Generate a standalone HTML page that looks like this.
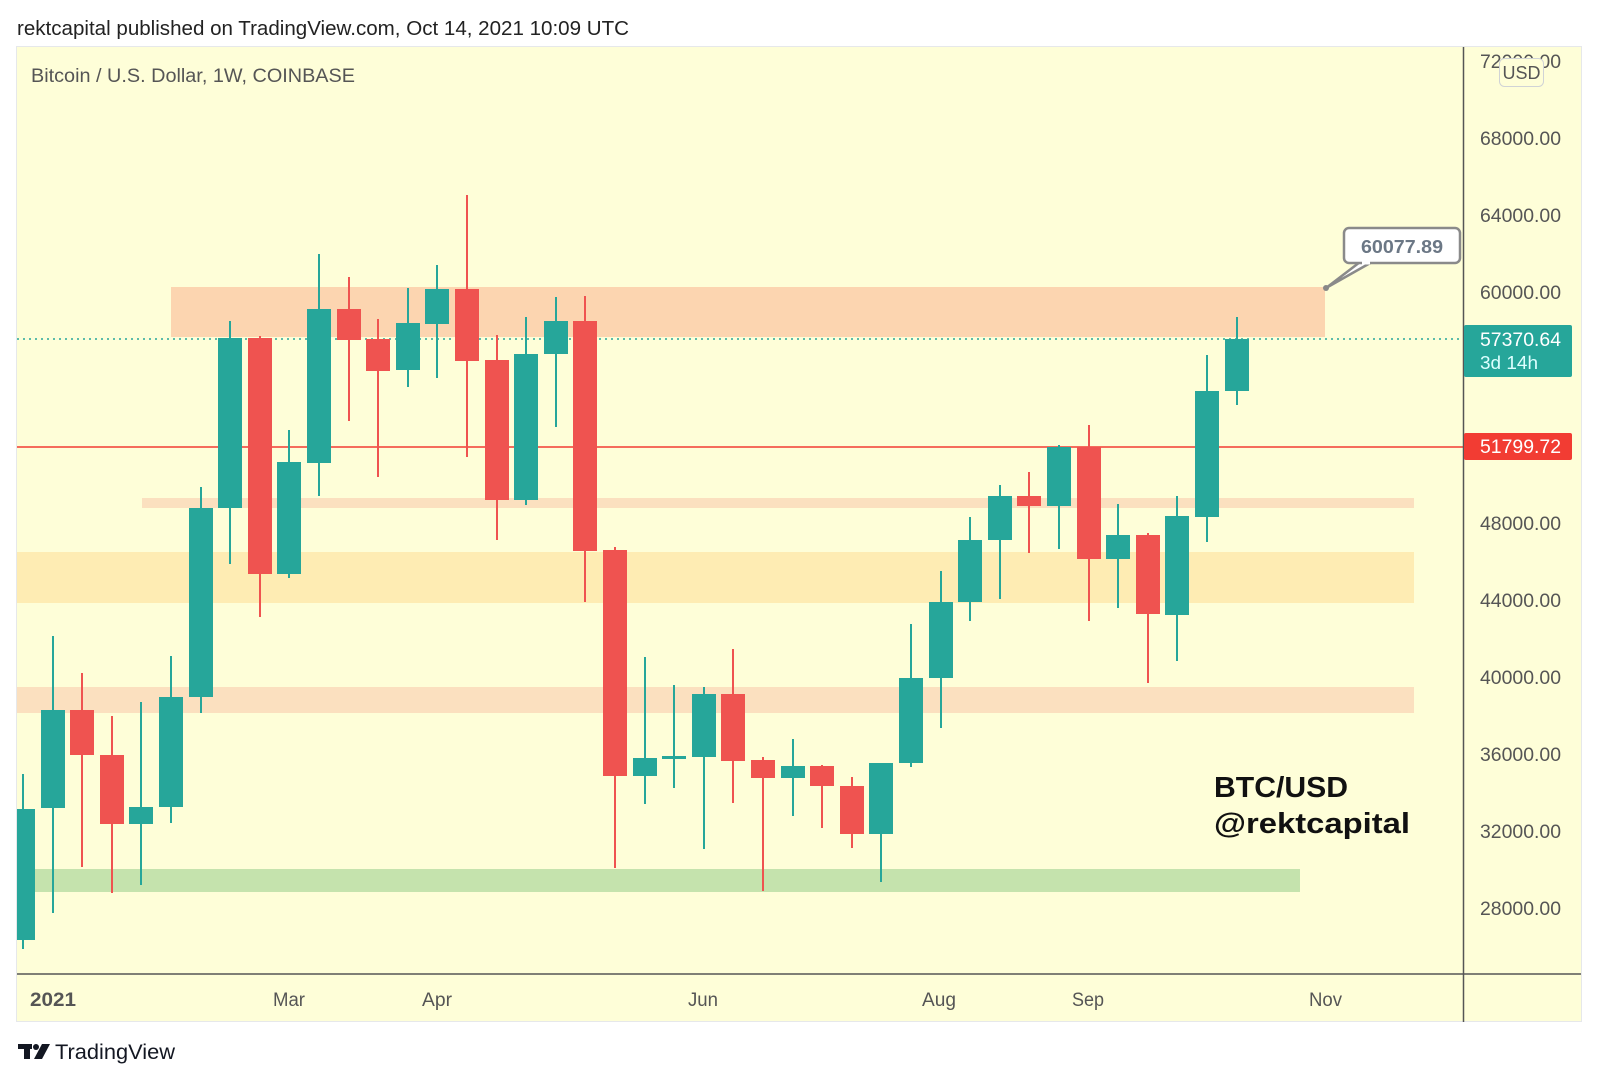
<!DOCTYPE html>
<html><head><meta charset="utf-8"><style>
html,body{margin:0;padding:0;background:#fff;}
svg{display:block;}
text{font-family:"Liberation Sans",sans-serif;}
</style></head><body>
<svg width="1599" height="1080" viewBox="0 0 1599 1080" xmlns="http://www.w3.org/2000/svg">
<rect x="0" y="0" width="1599" height="1080" fill="#ffffff"/>
<text x="17" y="35" font-size="20" fill="#222" textLength="612" lengthAdjust="spacingAndGlyphs">rektcapital published on TradingView.com, Oct 14, 2021 10:09 UTC</text>
<rect x="16.5" y="46.5" width="1565" height="975" fill="#fefed8" stroke="#e6e8ea"/>
<rect x="171" y="287" width="1154" height="50" fill="#fcd5b0"/>
<rect x="142" y="498" width="1272" height="10" fill="#fbe0bf"/>
<rect x="17" y="552" width="1397" height="51" fill="#feecb3"/>
<rect x="17" y="687" width="1397" height="26" fill="#fbe0bf"/>
<rect x="30" y="869" width="1270" height="23" fill="#c5e3ad"/>
<line x1="17" y1="339" x2="1463" y2="339" stroke="#26a69a" stroke-width="1.5" stroke-dasharray="2,4"/>
<line x1="17" y1="447" x2="1463" y2="447" stroke="#f23c33" stroke-width="1.5"/>
<g fill="#26a69a">
<rect x="22" y="774" width="2" height="175"/><rect x="17" y="809" width="18" height="131"/>
<rect x="52" y="636" width="2" height="277"/><rect x="41" y="710" width="24" height="98"/>
<rect x="140" y="702" width="2" height="183"/><rect x="129" y="807" width="24" height="17"/>
<rect x="170" y="656" width="2" height="167"/><rect x="159" y="697" width="24" height="110"/>
<rect x="200" y="487" width="2" height="226"/><rect x="189" y="508" width="24" height="189"/>
<rect x="229" y="321" width="2" height="243"/><rect x="218" y="338" width="24" height="170"/>
<rect x="288" y="430" width="2" height="148"/><rect x="277" y="462" width="24" height="112"/>
<rect x="318" y="254" width="2" height="242"/><rect x="307" y="309" width="24" height="154"/>
<rect x="407" y="288" width="2" height="99"/><rect x="396" y="323" width="24" height="47"/>
<rect x="436" y="265" width="2" height="113"/><rect x="425" y="289" width="24" height="35"/>
<rect x="525" y="317" width="2" height="188"/><rect x="514" y="354" width="24" height="146"/>
<rect x="555" y="297" width="2" height="130"/><rect x="544" y="321" width="24" height="33"/>
<rect x="644" y="657" width="2" height="147"/><rect x="633" y="758" width="24" height="18"/>
<rect x="673" y="685" width="2" height="103"/><rect x="662" y="756" width="24" height="3"/>
<rect x="703" y="687" width="2" height="162"/><rect x="692" y="694" width="24" height="63"/>
<rect x="792" y="739" width="2" height="77"/><rect x="781" y="766" width="24" height="12"/>
<rect x="880" y="763" width="2" height="119"/><rect x="869" y="763" width="24" height="71"/>
<rect x="910" y="624" width="2" height="143"/><rect x="899" y="678" width="24" height="85"/>
<rect x="940" y="571" width="2" height="157"/><rect x="929" y="602" width="24" height="76"/>
<rect x="969" y="517" width="2" height="104"/><rect x="958" y="540" width="24" height="62"/>
<rect x="999" y="485" width="2" height="114"/><rect x="988" y="496" width="24" height="44"/>
<rect x="1058" y="445" width="2" height="104"/><rect x="1047" y="447" width="24" height="59"/>
<rect x="1117" y="504" width="2" height="104"/><rect x="1106" y="535" width="24" height="24"/>
<rect x="1176" y="496" width="2" height="165"/><rect x="1165" y="516" width="24" height="99"/>
<rect x="1206" y="355" width="2" height="187"/><rect x="1195" y="391" width="24" height="126"/>
<rect x="1236" y="317" width="2" height="88"/><rect x="1225" y="339" width="24" height="52"/>
</g>
<g fill="#ef5350">
<rect x="81" y="673" width="2" height="194"/><rect x="70" y="710" width="24" height="45"/>
<rect x="111" y="716" width="2" height="177"/><rect x="100" y="755" width="24" height="69"/>
<rect x="259" y="336" width="2" height="281"/><rect x="248" y="338" width="24" height="236"/>
<rect x="348" y="277" width="2" height="144"/><rect x="337" y="309" width="24" height="31"/>
<rect x="377" y="319" width="2" height="158"/><rect x="366" y="339" width="24" height="32"/>
<rect x="466" y="195" width="2" height="262"/><rect x="455" y="289" width="24" height="72"/>
<rect x="496" y="335" width="2" height="205"/><rect x="485" y="360" width="24" height="140"/>
<rect x="584" y="296" width="2" height="306"/><rect x="573" y="321" width="24" height="230"/>
<rect x="614" y="547" width="2" height="321"/><rect x="603" y="550" width="24" height="226"/>
<rect x="732" y="649" width="2" height="154"/><rect x="721" y="694" width="24" height="67"/>
<rect x="762" y="757" width="2" height="134"/><rect x="751" y="760" width="24" height="18"/>
<rect x="821" y="765" width="2" height="63"/><rect x="810" y="766" width="24" height="20"/>
<rect x="851" y="777" width="2" height="71"/><rect x="840" y="786" width="24" height="48"/>
<rect x="1028" y="472" width="2" height="81"/><rect x="1017" y="496" width="24" height="10"/>
<rect x="1088" y="425" width="2" height="196"/><rect x="1077" y="447" width="24" height="112"/>
<rect x="1147" y="533" width="2" height="150"/><rect x="1136" y="535" width="24" height="79"/>
</g>
<line x1="1463.5" y1="47" x2="1463.5" y2="1022" stroke="#555" stroke-width="1.5"/>
<line x1="17" y1="974" x2="1581" y2="974" stroke="#555" stroke-width="1.5"/>
<g font-size="19" fill="#555">
<text x="1480" y="68" textLength="81" lengthAdjust="spacingAndGlyphs">72000.00</text>
<text x="1480" y="145" textLength="81" lengthAdjust="spacingAndGlyphs">68000.00</text>
<text x="1480" y="222" textLength="81" lengthAdjust="spacingAndGlyphs">64000.00</text>
<text x="1480" y="299" textLength="81" lengthAdjust="spacingAndGlyphs">60000.00</text>
<text x="1480" y="530" textLength="81" lengthAdjust="spacingAndGlyphs">48000.00</text>
<text x="1480" y="607" textLength="81" lengthAdjust="spacingAndGlyphs">44000.00</text>
<text x="1480" y="684" textLength="81" lengthAdjust="spacingAndGlyphs">40000.00</text>
<text x="1480" y="761" textLength="81" lengthAdjust="spacingAndGlyphs">36000.00</text>
<text x="1480" y="838" textLength="81" lengthAdjust="spacingAndGlyphs">32000.00</text>
<text x="1480" y="915" textLength="81" lengthAdjust="spacingAndGlyphs">28000.00</text>
</g>
<rect x="1499.5" y="58.5" width="44" height="28" rx="5" fill="#fefed8" stroke="#d0d3d6"/>
<text x="1521.5" y="79" font-size="18" fill="#555" text-anchor="middle">USD</text>
<rect x="1464" y="325" width="108" height="52" rx="2" fill="#26a69a"/>
<text x="1480" y="346" font-size="19" fill="#fff" textLength="81" lengthAdjust="spacingAndGlyphs">57370.64</text>
<text x="1480" y="369" font-size="18" fill="#dff" textLength="58" lengthAdjust="spacingAndGlyphs">3d 14h</text>
<rect x="1464" y="433" width="108" height="27" rx="2" fill="#f23c33"/>
<text x="1480" y="453" font-size="19" fill="#fff" textLength="81" lengthAdjust="spacingAndGlyphs">51799.72</text>
<polygon points="1326,288 1360,262 1372,262" fill="#fff" stroke="#8a8a8a" stroke-width="2.5" stroke-linejoin="round"/>
<circle cx="1326" cy="288" r="3" fill="#888"/>
<rect x="1344" y="228" width="116" height="35" rx="5" fill="#fff" stroke="#8a8a8a" stroke-width="2.5"/>
<line x1="1362" y1="263" x2="1370" y2="263" stroke="#fff" stroke-width="3"/>
<text x="1402" y="253" font-size="18" font-weight="bold" fill="#6b7785" text-anchor="middle" textLength="82" lengthAdjust="spacingAndGlyphs">60077.89</text>
<text x="31" y="82" font-size="19" fill="#555" textLength="324" lengthAdjust="spacingAndGlyphs">Bitcoin / U.S. Dollar, 1W, COINBASE</text>
<text x="1214" y="797" font-size="29" font-weight="bold" fill="#111" textLength="134" lengthAdjust="spacingAndGlyphs">BTC/USD</text>
<text x="1214" y="833" font-size="29" font-weight="bold" fill="#111" textLength="196" lengthAdjust="spacingAndGlyphs">@rektcapital</text>
<g font-size="19" fill="#555">
<text x="30" y="1006" font-weight="bold" textLength="46" lengthAdjust="spacingAndGlyphs">2021</text>
<text x="273" y="1006" textLength="32" lengthAdjust="spacingAndGlyphs">Mar</text>
<text x="422" y="1006" textLength="30" lengthAdjust="spacingAndGlyphs">Apr</text>
<text x="688" y="1006" textLength="30" lengthAdjust="spacingAndGlyphs">Jun</text>
<text x="922" y="1006" textLength="34" lengthAdjust="spacingAndGlyphs">Aug</text>
<text x="1072" y="1006" textLength="32" lengthAdjust="spacingAndGlyphs">Sep</text>
<text x="1309" y="1006" textLength="33" lengthAdjust="spacingAndGlyphs">Nov</text>
</g>
<g fill="#131722">
<rect x="18" y="1044" width="14" height="5"/><rect x="24" y="1044" width="6" height="15"/>
<circle cx="36" cy="1047" r="3"/><polygon points="42,1044 50,1044 42,1059 34,1059"/>
</g>
<text x="55" y="1059" font-size="21" fill="#131722" textLength="120" lengthAdjust="spacingAndGlyphs">TradingView</text>
</svg>
</body></html>
